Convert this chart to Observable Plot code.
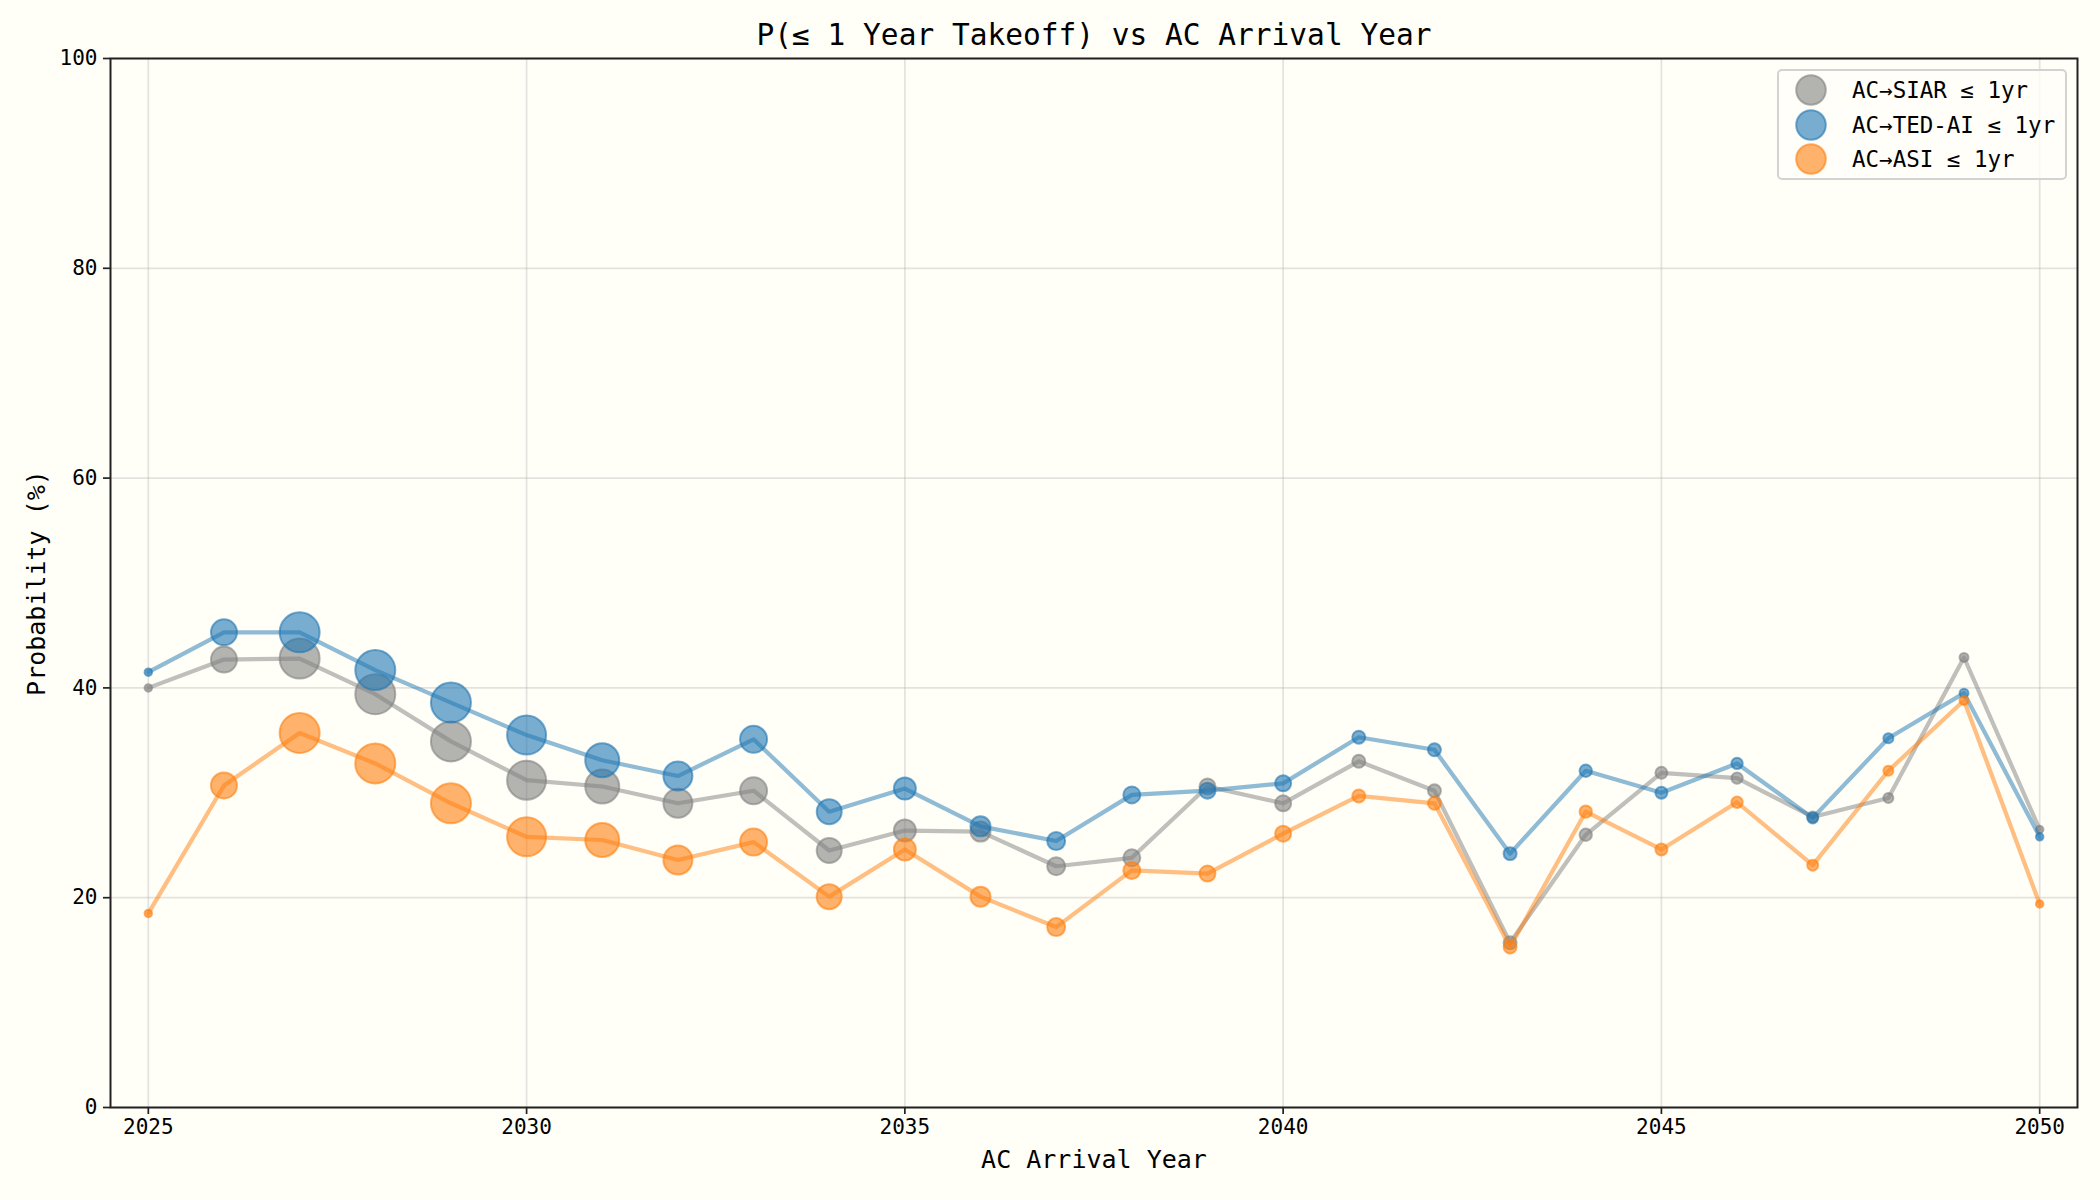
<!DOCTYPE html>
<html>
<head>
<meta charset="utf-8">
<script src="https://cdn.jsdelivr.net/npm/d3@7"></script>
<script src="https://cdn.jsdelivr.net/npm/@observablehq/plot@0.6"></script>
<style>
  html, body { margin: 0; padding: 0; background: #fffef7; }
  #wrap { position: relative; width: 2100px; height: 1200px; font-family: "DejaVu Sans Mono", monospace; }
  #legend { position: absolute; left: 1777px; top: 69px; width: 286px; height: 107px;
            border: 2px solid rgba(204,204,204,0.85); border-radius: 5px; background: rgba(255,254,247,0.8); }
  .row { position: absolute; left: 0; height: 34px; display: flex; align-items: center; }
  .row svg { position: absolute; left: 15px; }
  .row span { position: absolute; left: 73px; white-space: nowrap; font-size: 22.5px; color: #000; }
</style>
</head>
<body>
<div id="wrap"><div id="chart"></div><div id="legend"></div></div>
<script>
const years = [2025,2026,2027,2028,2029,2030,2031,2032,2033,2034,2035,2036,2037,2038,2039,2040,2041,2042,2043,2044,2045,2046,2047,2048,2049,2050];
const siar  = [40.0,42.7,42.8,39.4,34.9,31.2,30.6,29.0,30.2,24.5,26.4,26.3,23.0,23.8,30.6,29.0,33.0,30.2,15.7,26.0,31.9,31.4,27.7,29.5,42.9,26.5];
const tedai = [41.5,45.3,45.3,41.7,38.6,35.5,33.1,31.6,35.1,28.2,30.4,26.8,25.4,29.8,30.2,30.9,35.3,34.1,24.2,32.1,30.0,32.8,27.6,35.2,39.5,25.8];
const asi   = [18.5,30.7,35.7,32.8,29.0,25.8,25.5,23.6,25.3,20.1,24.6,20.1,17.2,22.6,22.3,26.1,29.7,29.0,15.3,28.2,24.6,29.1,23.1,32.1,38.8,19.4];
// relative sample weight per arrival year (marker area)
const weight = [14,169,400,400,400,380,289,210,182,156,121,100,81,72,64,64,42,42,42,38,36,32,30,25,20,14];

const seriesNames = ["AC→SIAR ≤ 1yr", "AC→TED-AI ≤ 1yr", "AC→ASI ≤ 1yr"];
const seriesValues = [siar, tedai, asi];
const seriesColors = ["#808080", "#1f77b4", "#ff7f0e"];
const xTicks = [2025, 2030, 2035, 2040, 2045, 2050];
const yTicks = [0, 20, 40, 60, 80, 100];
const titleText = "P(≤ 1 Year Takeoff) vs AC Arrival Year";
const xLabel = "AC Arrival Year";
const yLabel = "Probability (%)";

const series = seriesNames.map((name, i) =>
  years.map((yr, j) => ({ name, year: yr, value: seriesValues[i][j], w: weight[j] })));

const marks = [
  Plot.ruleX(xTicks, { stroke: "#b0b0b0", strokeOpacity: 0.35, strokeWidth: 1.7 }),
  Plot.ruleY(yTicks, { stroke: "#b0b0b0", strokeOpacity: 0.35, strokeWidth: 1.7 }),
];
series.forEach((s, i) => {
  marks.push(Plot.line(s, { x: "year", y: "value", stroke: seriesColors[i], strokeWidth: 4.2, strokeOpacity: 0.5 }));
  marks.push(Plot.dot(s, { x: "year", y: "value", r: "w", fill: seriesColors[i], fillOpacity: 0.6,
                           stroke: seriesColors[i], strokeOpacity: 0.6, strokeWidth: 2 }));
});
marks.push(
  Plot.frame({ stroke: "#222", strokeWidth: 2 }),
  Plot.axisX({ ticks: xTicks, tickFormat: d => String(d), tickSize: 7, tickPadding: 5, fontSize: 21, label: null, stroke: "#222", strokeWidth: 1.7 }),
  Plot.axisY({ ticks: yTicks, tickFormat: d => String(d), tickSize: 7, tickPadding: 6, fontSize: 21, label: null, stroke: "#222", strokeWidth: 1.7 }),
  Plot.text([titleText], { text: d => d, frameAnchor: "top", dy: -23, fontSize: 29.5, lineAnchor: "middle", textAnchor: "middle", fill: "#000" }),
  Plot.text([xLabel], { text: d => d, frameAnchor: "bottom", dy: 52, fontSize: 25, lineAnchor: "middle", textAnchor: "middle", fill: "#000" }),
  Plot.text([yLabel], { text: d => d, frameAnchor: "left", dx: -74, rotate: -90, fontSize: 25, lineAnchor: "middle", textAnchor: "middle", fill: "#000" })
);

const chart = Plot.plot({
  width: 2100, height: 1200,
  marginLeft: 110, marginRight: 23, marginTop: 58, marginBottom: 93,
  x: { domain: [2024.5, 2050.5] },
  y: { domain: [0, 100] },
  r: { type: "sqrt", domain: [0, 400], range: [0, 20] },
  style: { fontFamily: "DejaVu Sans Mono", background: "#fffef7", color: "#000", overflow: "visible" },
  marks
});
document.getElementById("chart").appendChild(chart);

const legend = document.getElementById("legend");
const rowTops = [2, 36.5, 71];
seriesNames.forEach((name, i) => {
  const row = document.createElement("div");
  row.className = "row";
  row.style.top = rowTops[i] + "px";
  row.innerHTML = `<svg width="34" height="34"><circle cx="17" cy="17" r="14.8" fill="${seriesColors[i]}" fill-opacity="0.6" stroke="${seriesColors[i]}" stroke-opacity="0.6" stroke-width="2"/></svg><span>${name}</span>`;
  legend.appendChild(row);
});
</script>
</body>
</html>
